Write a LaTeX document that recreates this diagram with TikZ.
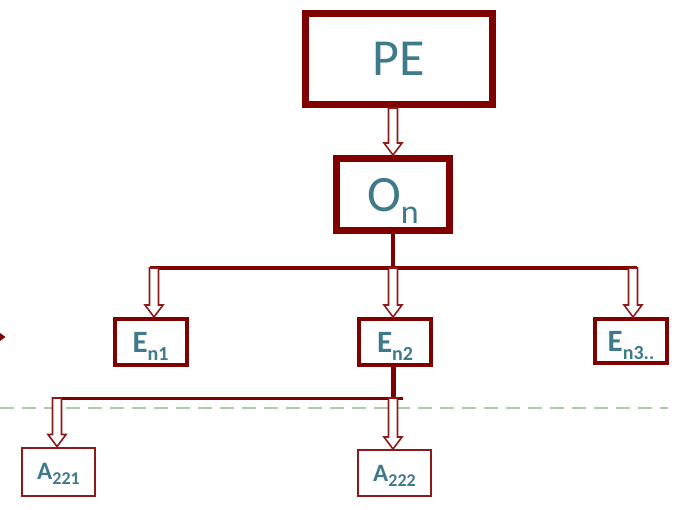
\documentclass[tikz,border=0pt]{standalone}
\usepackage{fontspec}
\setmainfont{Carlito}
\usetikzlibrary{calc}
\definecolor{dred}{HTML}{800000}
\definecolor{lred}{HTML}{8B1A1A}
\definecolor{teal2}{HTML}{3F7A8A}
\definecolor{lgreen}{HTML}{A8CFA8}
\newcommand\hollowarr[2]{\draw[harrow] let \p1=#1, \p2=#2 in (\x2-4.5pt,\y1) -- (\x2+4.5pt,\y1) -- (\x2+4.5pt,\y2+12pt) -- (\x2+9pt,\y2+12pt) -- (\x2,\y2) -- (\x2-9pt,\y2+12pt) -- (\x2-4.5pt,\y2+12pt) -- cycle;}
\newcommand\subtxt[3]{\raisebox{-#1pt}{\fontsize{#2}{#2}\selectfont #3}}
\begin{document}
\begin{tikzpicture}[x=1pt,y=-1pt,
  bigbox/.style={draw=dred, line width=7pt, fill=white, text=teal2, inner sep=0pt},
  ebox/.style={draw=dred, line width=4pt, fill=white, text=teal2, inner sep=0pt, text depth=0pt,
     minimum width=72pt, minimum height=46pt, font=\fontsize{31}{31}\selectfont\bfseries},
  abox/.style={draw=lred, line width=2pt, fill=white, text=teal2, inner sep=0pt, text depth=0pt,
     minimum width=73pt, minimum height=48pt, font=\fontsize{25}{25}\selectfont\bfseries},
  harrow/.style={draw=lred, line width=1.6pt, fill=white, line join=miter},
  bar/.style={draw=dred, line width=4pt},
  bartwo/.style={draw=dred, line width=3pt},
  greendash/.style={draw=lgreen, line width=1.5pt, dash pattern=on 14pt off 8pt}]
\useasboundingbox (0,0) rectangle (675,509);
\draw[greendash] (0,408) -- (668,408);
\fill[dred] (0,333) -- (5.5,337) -- (0,341) -- cycle;
% boxes
\node[bigbox, minimum width=187pt, minimum height=91pt, font=\fontsize{52}{52}\selectfont] (PE) at (399,59) {PE};
\node[bigbox, minimum width=113pt, minimum height=72pt, text depth=0pt, font=\fontsize{51}{51}\selectfont] (On) at (393,194.5) {O\subtxt{12}{34}{n}};
\node[ebox] (En1) at (150.5,342) {E\subtxt{8}{20}{n1}};
\node[ebox] (En2) at (395,342) {E\subtxt{8}{20}{n2}};
\node[ebox, minimum height=44pt] (En3) at (631,341) {E\subtxt{8}{20}{n3..}};
\node[abox] (A221) at (58.5,471.5) {A\subtxt{5}{18}{221}};
\node[abox, minimum height=46pt] (A222) at (394.5,473) {A\subtxt{5}{18}{222}};
% bus coordinates
\coordinate (b1L) at (150,268);
\coordinate (b1R) at (637,268);
\coordinate (t1) at (154,268);
\coordinate (t2) at (393,268);
\coordinate (t3) at (633,268);
\coordinate (b2L) at (54,398);
\coordinate (b2R) at (403,398);
\coordinate (s1) at (57,398);
\coordinate (s2) at (393,398);
% connectors
\draw[bar] (On.south) -- (On.south |- b1L);
\draw[bar] (b1L) -- (b1R);
\draw[bar, line width=5pt] (s2 |- En2.south) -- (s2);
\draw[bartwo] (b2L) -- (b2R);
\hollowarr{(PE.south)}{(On.north)}
\hollowarr{(t1)}{(t1 |- En1.north)}
\hollowarr{(t2)}{(t2 |- En2.north)}
\hollowarr{(t3)}{(t3 |- En3.north)}
\hollowarr{(s1)}{(s1 |- A221.north)}
\hollowarr{(s2)}{(s2 |- A222.north)}
\end{tikzpicture}
\end{document}
